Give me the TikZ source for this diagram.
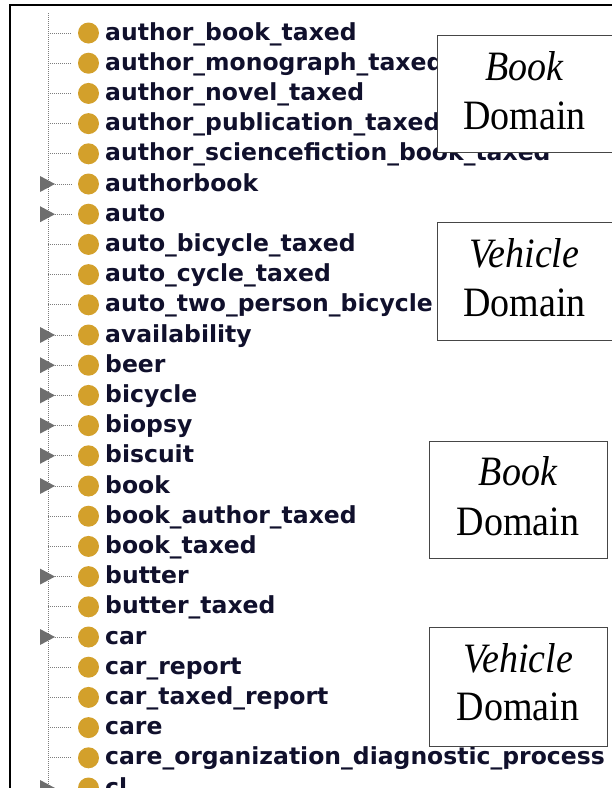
\documentclass[tikz,border=0pt]{standalone}
\usepackage{fontspec}
\setmainfont{Liberation Serif}
\newfontfamily\treefont{DejaVu Sans}
\definecolor{classgold}{RGB}{211,160,43}
\definecolor{treetext}{RGB}{16,16,44}
\definecolor{expandgray}{RGB}{110,110,110}
\definecolor{boxgray}{RGB}{70,70,70}
\definecolor{dotgray}{RGB}{125,125,125}
\begin{document}
\begin{tikzpicture}[x=1pt,y=-1pt,
  rowtext/.style={anchor=base west, inner sep=0pt, text=treetext,
    font=\treefont\bfseries\fontsize{23.5}{26}\selectfont},
  classdot/.style={circle, fill=classgold, minimum size=21pt, inner sep=0pt},
  treeline/.style={draw=dotgray, line width=1pt, dash pattern=on 1pt off 1pt},
  expander/.style={fill=expandgray},
  domainbox/.style={draw=boxgray, line width=1.4pt, fill=white, anchor=north west, inner sep=0pt},
  domaintext/.style={anchor=base, inner sep=0pt, font=\fontsize{38}{40}\selectfont}
]
\useasboundingbox (0,0) rectangle (612,788);
\clip (0,0) rectangle (612,788);

% frame
\coordinate (fbl) at (10,790);
\coordinate (ftl) at (10,5);
\coordinate (ftr) at (614,5);
\draw[line width=2pt] (fbl) -- (ftl) -- (ftr);

% spine
\coordinate (spinetop) at (48,13);
\coordinate (spinebot) at (48,790);
\draw[treeline] (spinetop) -- (spinebot);

\foreach \lab/\ex [count=\i from 0] in {
  author\_book\_taxed/0,
  author\_monograph\_taxed/0,
  author\_novel\_taxed/0,
  author\_publication\_taxed/0,
  author\_sciencefiction\_book\_taxed/0,
  authorbook/1,
  auto/1,
  auto\_bicycle\_taxed/0,
  auto\_cycle\_taxed/0,
  auto\_two\_person\_bicycle/0,
  availability/1,
  beer/1,
  bicycle/1,
  biopsy/1,
  biscuit/1,
  book/1,
  book\_author\_taxed/0,
  book\_taxed/0,
  butter/1,
  butter\_taxed/0,
  car/1,
  car\_report/0,
  car\_taxed\_report/0,
  care/0,
  care\_organization\_diagnostic\_process/0,
  cl/1}{
  \pgfmathsetmacro{\yy}{33+30.2*\i}
  \node[classdot] (dot\i) at (88.5,\yy) {};
  \node[rowtext] (txt\i) at (105,\yy+7) {\lab};
  \ifnum\ex=1
    \fill[expander] (40,\yy-8) -- (55,\yy) -- (40,\yy+8) -- cycle;
    \coordinate (j\i) at (55,\yy);
  \else
    \coordinate (j\i) at (48,\yy);
  \fi
  \draw[treeline, shorten >=6pt] (j\i) -- (dot\i.west);
}

% domain boxes
\node[domainbox, minimum width=190pt, minimum height=117pt] (box1) at (437,35) {};
\node[domaintext] (b1a) at (524.5,80) {\scalebox{1}[1.1]{\itshape Book}};
\node[domaintext] (b1b) at (524.5,129) {\scalebox{1}[1.1]{Domain}};

\node[domainbox, minimum width=190pt, minimum height=118pt] (box2) at (437,222) {};
\node[domaintext] (b2a) at (524.5,267) {\scalebox{1}[1.1]{\itshape Vehicle}};
\node[domaintext] (b2b) at (524.5,316) {\scalebox{1}[1.1]{Domain}};

\node[domainbox, minimum width=178pt, minimum height=117pt] (box3) at (429,441) {};
\node[domaintext] (b3a) at (518,485) {\scalebox{1}[1.1]{\itshape Book}};
\node[domaintext] (b3b) at (518,535) {\scalebox{1}[1.1]{Domain}};

\node[domainbox, minimum width=178pt, minimum height=119pt] (box4) at (429,627) {};
\node[domaintext] (b4a) at (518,672) {\scalebox{1}[1.1]{\itshape Vehicle}};
\node[domaintext] (b4b) at (518,720) {\scalebox{1}[1.1]{Domain}};
\end{tikzpicture}
\end{document}
